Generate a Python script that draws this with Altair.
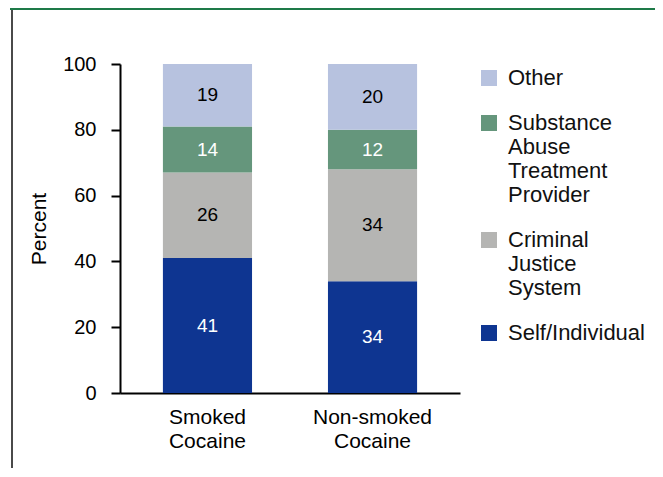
import altair as alt
import pandas as pd

FONT = "Liberation Sans"

groups = ["Smoked Cocaine", "Non-smoked Cocaine"]
sources = ["Self/Individual", "Criminal Justice System",
           "Substance Abuse Treatment Provider", "Other"]
smoked = [41, 26, 14, 19]
non_smoked = [34, 34, 12, 20]
colors = ["#0e3591", "#b5b5b3", "#65967c", "#b7c2df"]
y_ticks = [0, 20, 40, 60, 80, 100]

rows = []
for g, vals in zip(groups, [smoked, non_smoked]):
    for i, (s, v) in enumerate(zip(sources, vals)):
        rows.append({"group": g, "source": s, "value": v, "idx": i})
df = pd.DataFrame(rows)

legend_order = sources[::-1]
color_scale = alt.Scale(domain=legend_order, range=colors[::-1])

base = alt.Chart(df).transform_stack(
    stack="value", groupby=["group"], as_=["y0", "y1"],
    sort=[alt.SortField("idx", order="ascending")]
).transform_calculate(mid="(datum.y0 + datum.y1) / 2")

x_enc = alt.X(
    "group:N", sort=groups, title=None,
    scale=alt.Scale(paddingInner=0.46, paddingOuter=0.26),
    axis=alt.Axis(labelExpr="split(datum.label, ' ')", labelAngle=0,
                  labelFontSize=21, labelLineHeight=24, labelPadding=13,
                  labelFont=FONT, labelColor="black",
                  ticks=False, tickSize=0, domainWidth=2, domainColor="black"),
)

y_scale = alt.Scale(domain=[0, 100], nice=False)

bars = base.mark_bar(strokeWidth=0).encode(
    x=x_enc,
    y=alt.Y("y0:Q", scale=y_scale,
            axis=alt.Axis(values=y_ticks, grid=False, tickSize=9, tickWidth=2,
                          tickColor="black", domainWidth=2, domainColor="black",
                          labelFontSize=20, labelFont=FONT, labelColor="black",
                          labelPadding=15, title="Percent", titleFont=FONT,
                          titleFontSize=21, titleFontWeight="normal",
                          titleColor="black", titlePadding=13)),
    y2="y1:Q",
    color=alt.Color("source:N", scale=color_scale,
                    legend=alt.Legend(title=None, orient="none", legendX=358,
                                      legendY=3, symbolType="square",
                                      symbolSize=256, symbolStrokeWidth=0,
                                      labelFontSize=22, labelFont=FONT,
                                      labelColor="#111111", labelOffset=8,
                                      labelLimit=0, rowPadding=23, padding=0,
                                      labelExpr="split(datum.label, ' ')")),
)

labels = base.mark_text(fontSize=19, font=FONT, baseline="middle").encode(
    x=alt.X("group:N", sort=groups),
    y=alt.Y("mid:Q", scale=y_scale),
    text=alt.Text("value:Q"),
    color=alt.condition(
        alt.FieldOneOfPredicate(field="source",
                                oneOf=["Self/Individual",
                                       "Substance Abuse Treatment Provider"]),
        alt.value("white"), alt.value("black")),
)

one = pd.DataFrame({"k": [0]})
frame_v = alt.Chart(one).mark_rule(color="#4a4a4a", strokeWidth=2).encode(
    x=alt.value(-108), y=alt.value(-56), y2=alt.value(405))
frame_h = alt.Chart(one).mark_rule(color="#1e7a48", strokeWidth=3).encode(
    x=alt.value(-110), x2=alt.value(535), y=alt.value(-55.5))

chart = alt.layer(bars, labels, frame_v, frame_h).properties(
    width=340, height=329,
    autosize=alt.AutoSizeParams(type="none"),
    padding={"left": 112, "top": 56, "right": 195, "bottom": 75},
).configure_view(stroke=None)

chart.save("out.html", embed_options={"renderer": "svg", "actions": False})
